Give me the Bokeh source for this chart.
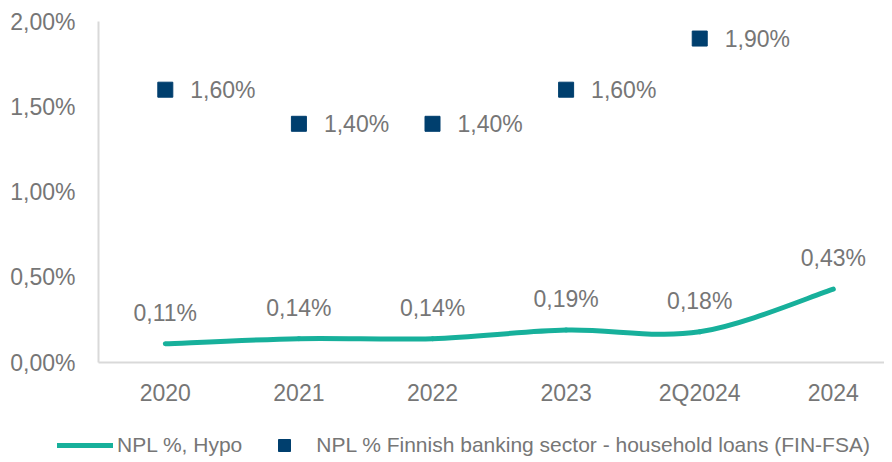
import numpy as np
from bokeh.plotting import figure
from bokeh.layouts import column, row
from bokeh.models import ColumnDataSource, FixedTicker, Legend, LegendItem, Range1d
from bokeh.core.properties import value
from bokeh.embed import file_html
from bokeh.resources import INLINE

# ---- data ----
categories = ["2020", "2021", "2022", "2023", "2Q2024", "2024"]
hypo_npl = [0.11, 0.14, 0.14, 0.19, 0.18, 0.43]
fin_categories = ["2020", "2021", "2022", "2023", "2Q2024"]
fin_npl = [1.60, 1.40, 1.40, 1.60, 1.90]
y_ticks = [0.0, 0.5, 1.0, 1.5, 2.0]
hypo_label = "NPL %, Hypo"
fin_label = "NPL % Finnish banking sector - household loans (FIN-FSA)"


def pct(v):
    return f"{v:.2f}%".replace(".", ",")


FONT = "Liberation Sans"
TXT = "#767676"
TEAL = "#17B09B"
NAVY = "#003F6E"

x_idx = [categories.index(c) for c in categories]
fin_x = [categories.index(c) for c in fin_categories]

# smoothed line (Excel-like) as cubic Bezier segments built from the data
n = len(hypo_npl)
seg = dict(x0=[], y0=[], x1=[], y1=[], cx0=[], cy0=[], cx1=[], cy1=[])
for i in range(n - 1):
    pm = max(i - 1, 0)
    pp = min(i + 2, n - 1)
    seg["x0"].append(x_idx[i]); seg["y0"].append(hypo_npl[i])
    seg["x1"].append(x_idx[i + 1]); seg["y1"].append(hypo_npl[i + 1])
    seg["cx0"].append(x_idx[i] + (x_idx[i + 1] - x_idx[pm]) / 6)
    seg["cy0"].append(hypo_npl[i] + (hypo_npl[i + 1] - hypo_npl[pm]) / 6)
    seg["cx1"].append(x_idx[i + 1] - (x_idx[pp] - x_idx[i]) / 6)
    seg["cy1"].append(hypo_npl[i + 1] - (hypo_npl[pp] - hypo_npl[i]) / 6)

p = figure(
    frame_width=786, frame_height=341,
    min_border_left=98, min_border_right=0, min_border_top=21, min_border_bottom=58,
    x_range=Range1d(-0.5, 5.383), y_range=Range1d(0, 2.0),
    output_backend="svg", toolbar_location=None,
)
p.outline_line_color = None
p.xgrid.visible = False
p.ygrid.visible = False

p.bezier(source=ColumnDataSource(seg), x0="x0", y0="y0", x1="x1", y1="y1",
         cx0="cx0", cy0="cy0", cx1="cx1", cy1="cy1",
         line_color=TEAL, line_width=5, line_cap="round")

p.scatter(x=fin_x, y=fin_npl, marker="square", size=15,
          fill_color=NAVY, line_color=NAVY)

p.text(x=x_idx, y=hypo_npl, text=[pct(v) for v in hypo_npl],
       text_font=value(FONT), text_font_size="23px", text_color=TXT,
       text_align="center", text_baseline="middle", y_offset=-31)
p.text(x=fin_x, y=fin_npl, text=[pct(v) for v in fin_npl],
       text_font=value(FONT), text_font_size="23px", text_color=TXT,
       text_align="left", text_baseline="middle", x_offset=25)

# axes
p.xaxis.ticker = FixedTicker(ticks=x_idx)
p.xaxis.major_label_overrides = {i: c for i, c in zip(x_idx, categories)}
p.yaxis.ticker = FixedTicker(ticks=y_ticks)
p.yaxis.major_label_overrides = {t: pct(t) for t in y_ticks}
for ax in (p.xaxis, p.yaxis):
    ax.major_tick_line_color = None
    ax.minor_tick_line_color = None
    ax.axis_line_color = "#D9D9D9"
    ax.axis_line_width = 2
    ax.major_label_text_font = FONT
    ax.major_label_text_font_size = "23px"
    ax.major_label_text_color = TXT
p.yaxis.major_label_standoff = 17
p.xaxis.major_label_standoff = 11

# ---- legend strip (separate figure under the chart) ----
lg = figure(
    width=884, height=40,
    min_border=0, min_border_left=0, min_border_right=0, min_border_top=0, min_border_bottom=0,
    x_range=Range1d(0, 1), y_range=Range1d(10, 11),
    x_axis_type=None, y_axis_type=None,
    output_backend="svg", toolbar_location=None,
)
lg.outline_line_color = None
# same series drawn outside this strip's visible range, used only as legend glyphs
l_line = lg.line(x=x_idx, y=hypo_npl, line_color=TEAL, line_width=5, line_cap="round")
l_sq = lg.scatter(x=fin_x, y=fin_npl, marker="square", size=15,
                  fill_color=NAVY, line_color=NAVY)

legend = Legend(
    items=[LegendItem(label=hypo_label, renderers=[l_line]),
           LegendItem(label=fin_label, renderers=[l_sq])],
    orientation="horizontal", location=(57, 0),
    glyph_width=56, glyph_height=30, label_standoff=4, spacing=14,
    padding=0, margin=0,
    border_line_color=None, background_fill_alpha=0,
    label_text_font=FONT, label_text_font_size="21px", label_text_color=TXT,
)
lg.add_layout(legend)

layout = column(p, row(lg), spacing=0)
open("out.html", "w").write(file_html(layout, INLINE))
